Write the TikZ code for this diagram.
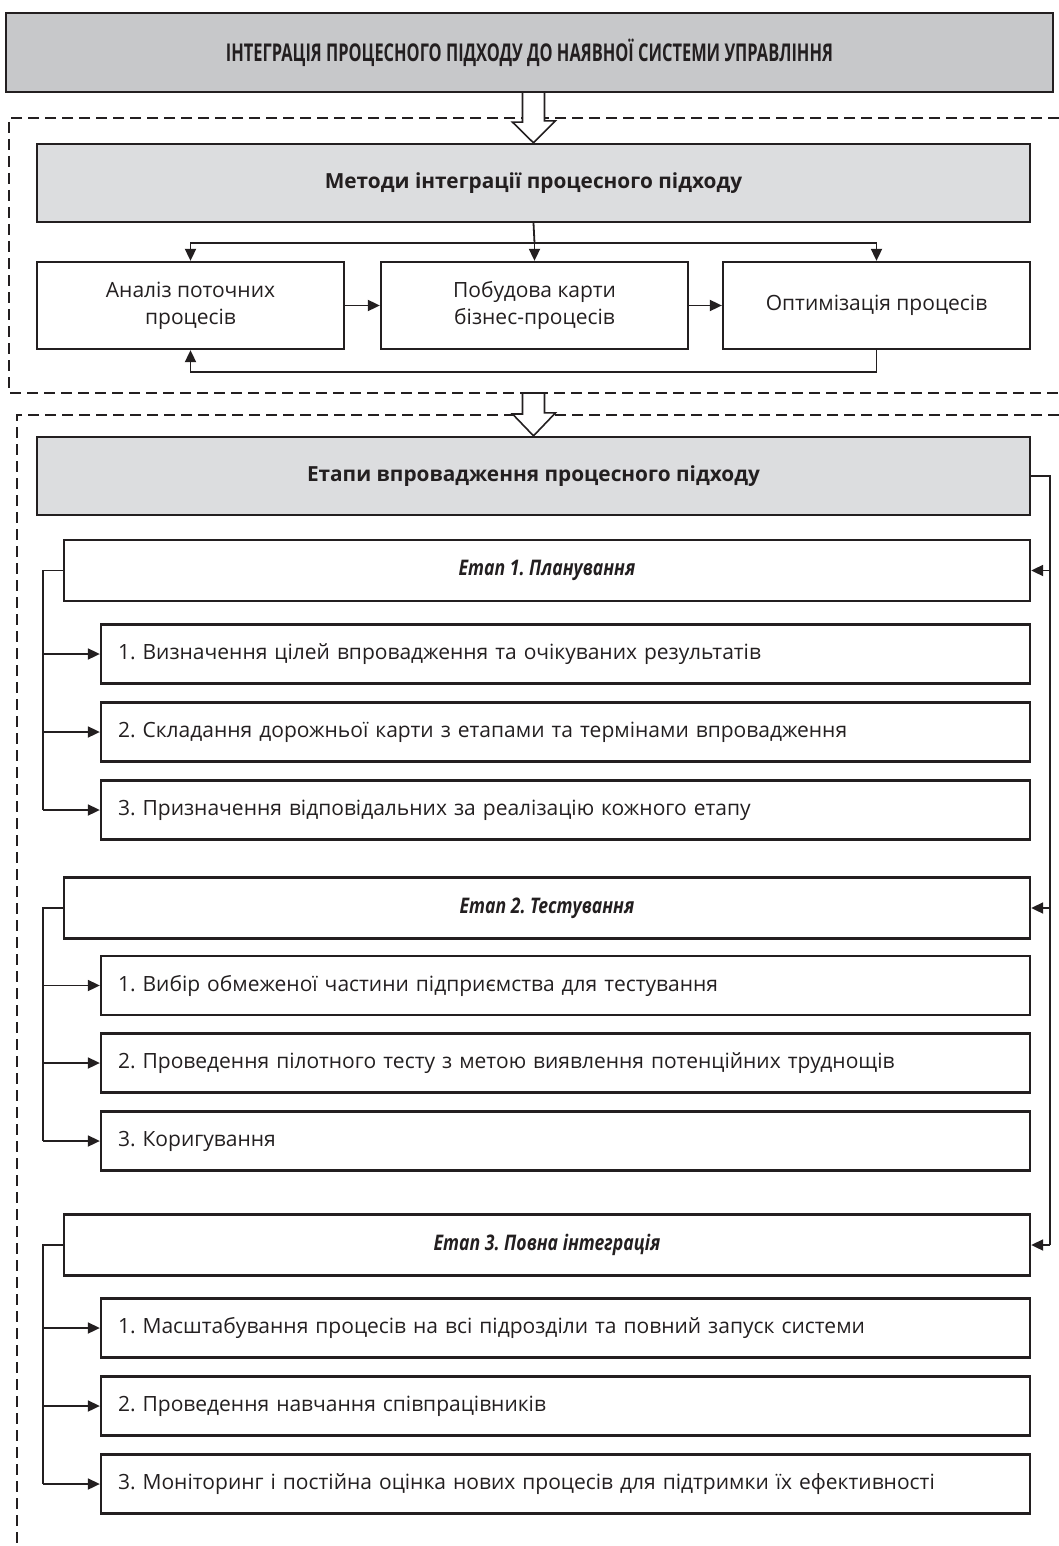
\documentclass[tikz,border=0pt]{standalone}
\usepackage{fontspec}
\setmainfont{Open Sans}
\newfontfamily\condfont{Open Sans}[FakeStretch=0.67]
\newfontfamily\stagefont{Open Sans}[FakeStretch=0.82]
\usetikzlibrary{arrows.meta,calc}
\definecolor{ink}{HTML}{231F20}
\definecolor{gdark}{HTML}{C7C8CA}
\definecolor{glight}{HTML}{DCDDDF}
\tikzset{
  box/.style={draw=ink, line width=2.3pt, inner sep=0pt, align=center, font=\frenchspacing\fontsize{21}{27}\selectfont, text=ink},
  titlebox/.style={box, fill=gdark, minimum width=1047pt, minimum height=79pt, font=\frenchspacing\condfont\fontsize{24.5}{28}\selectfont\bfseries},
  headbox/.style={box, fill=glight, minimum width=993pt, minimum height=78pt, font=\frenchspacing\fontsize{20.8}{25}\selectfont\bfseries},
  methbox/.style={box, minimum width=307pt, minimum height=87pt},
  stagebox/.style={box, minimum width=966pt, minimum height=61pt, font=\frenchspacing\stagefont\fontsize{21.5}{25}\selectfont\bfseries\itshape},
  itembox/.style={box, text width=895pt, inner xsep=17pt, minimum height=59pt, align=left},
  grp/.style={draw=ink, line width=2pt, dash pattern=on 11pt off 6pt},
  conn/.style={draw=ink, line width=1.8pt},
  arr/.style={conn, -{Triangle[length=12pt,width=11pt]}},
  hollow/.style={draw=ink, line width=1.6pt, fill=white, line join=miter},
}
\begin{document}
\begin{tikzpicture}[x=1pt,y=-1pt]
\useasboundingbox (0,0) rectangle (1059,1546);

% group frames
\draw[grp] (1059,118) -- (9,118) -- (9,393) -- (1059,393);
\draw[grp] (1059,415) -- (17,415) -- (17,1546);

\node[titlebox] (title) at (529.5,52.5) {ІНТЕГРАЦІЯ ПРОЦЕСНОГО ПІДХОДУ ДО НАЯВНОЇ СИСТЕМИ УПРАВЛІННЯ};
\node[headbox] (meth) at (533.5,183) {Методи інтеграції процесного підходу};

\node[methbox] (m1) at (190.5,305.5) {Аналіз поточних\\процесів};
\node[methbox] (m2) at (534.5,305.5) {Побудова карти\\бізнес-процесів};
\node[methbox] (m3) at (876.5,305.5) {Оптимізація процесів};

\node[headbox] (etapy) at (533.5,476) {Етапи впровадження процесного підходу};

\node[stagebox] (s1) at (547,570.5) {Етап 1. Планування};
\node[itembox] (i11) at (565.5,654) {1. Визначення цілей впровадження та очікуваних результатів};
\node[itembox] (i12) at (565.5,732) {2. Складання дорожньої карти з етапами та термінами впровадження};
\node[itembox] (i13) at (565.5,810) {3. Призначення відповідальних за реалізацію кожного етапу};

\node[stagebox] (s2) at (547,908) {Етап 2. Тестування};
\node[itembox] (i21) at (565.5,985.5) {1. Вибір обмеженої частини підприємства для тестування};
\node[itembox] (i22) at (565.5,1063) {2. Проведення пілотного тесту з метою виявлення потенційних труднощів};
\node[itembox] (i23) at (565.5,1141) {3. Коригування};

\node[stagebox] (s3) at (547,1245) {Етап 3. Повна інтеграція};
\node[itembox] (i31) at (565.5,1328) {1. Масштабування процесів на всі підрозділи та повний запуск системи};
\node[itembox] (i32) at (565.5,1406) {2. Проведення навчання співпрацівників};
\node[itembox] (i33) at (565.5,1484) {3. Моніторинг і постійна оцінка нових процесів для підтримки їх ефективності};

% hollow arrows
\coordinate (a1) at (meth.north |- title.south);
\draw[hollow] ($(a1)+(-11,0)$) -- ++(0,29) -- ++(-10,0) -- (meth.north) -- ++(22,-22) -- ++(-11,0) -- ($(a1)+(11,0)$);
\coordinate (a2) at (etapy.north |- 0,393);
\draw[hollow] ($(a2)+(-11,0)$) -- ++(0,21) -- ++(-10,0) -- (etapy.north) -- ++(22,-23) -- ++(-11,0) -- ($(a2)+(11,0)$) -- cycle;

% methods connectors
\coordinate (bus) at (534.5,243);
\draw[conn] (meth.south) -- (bus);
\draw[arr] (bus) -| (m1.north);
\draw[arr] (bus) -| (m3.north);
\draw[arr] (bus) -- (m2.north);
\draw[arr] (m1.east) -- (m2.west);
\draw[arr] (m2.east) -- (m3.west);
\coordinate (fb) at (876.5,372);
\draw[arr] (m3.south) -- (fb) -| (m1.south);

% right rail
\coordinate (rail) at (1050,476);
\draw[conn] (etapy.east) -- (rail) -- (rail |- s3.east);
\draw[arr] (rail |- s1.east) -- (s1.east);
\draw[arr] (rail |- s2.east) -- (s2.east);
\draw[arr] (rail |- s3.east) -- (s3.east);

% left rails
\foreach \s/\a/\b/\c in {s1/i11/i12/i13, s2/i21/i22/i23, s3/i31/i32/i33}{
  \coordinate (k) at ($(\s.west)+(-20,0)$);
  \draw[conn] (\s.west) -- (k) -- (k |- \c.west);
  \draw[arr] (k |- \a.west) -- (\a.west);
  \draw[arr] (k |- \b.west) -- (\b.west);
  \draw[arr] (k |- \c.west) -- (\c.west);
}
\end{tikzpicture}
\end{document}
